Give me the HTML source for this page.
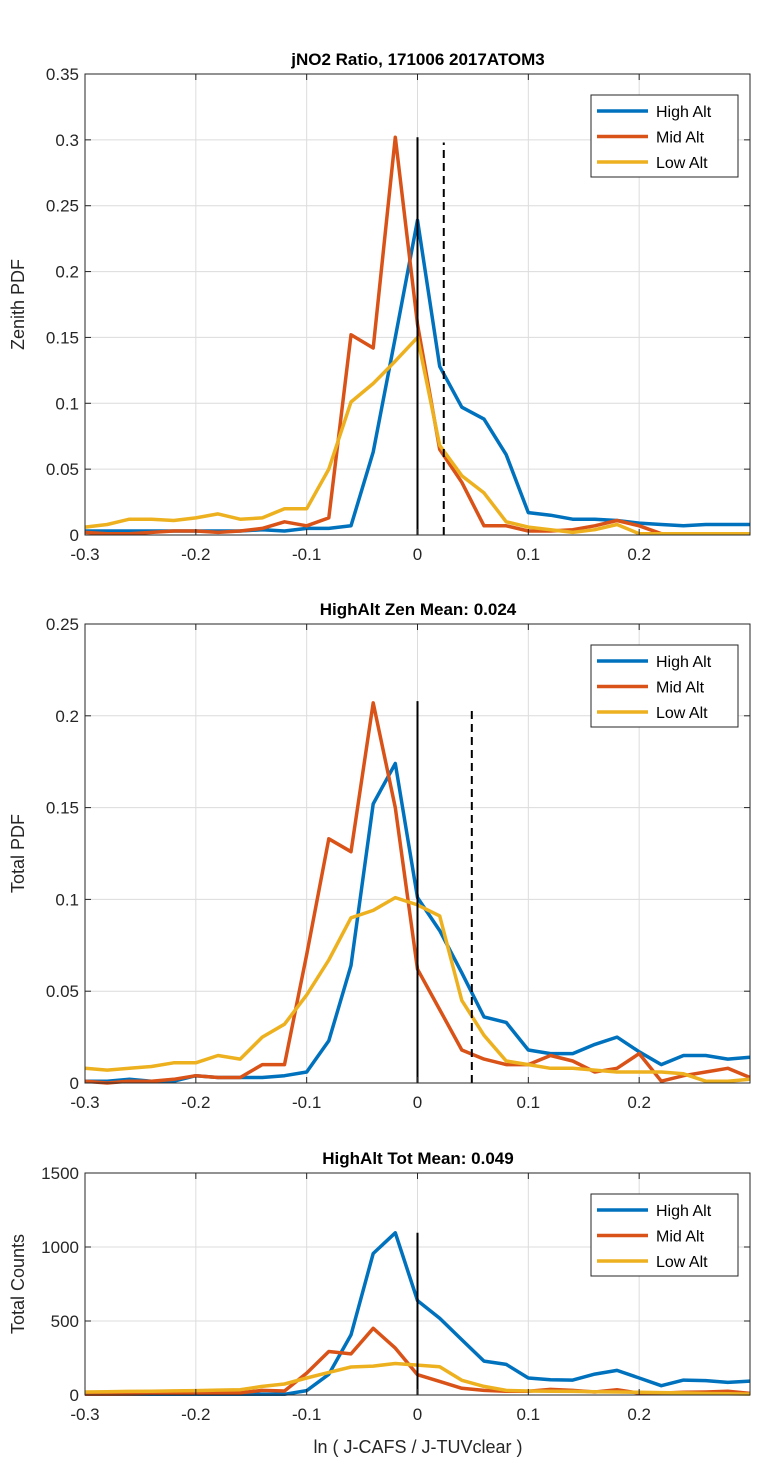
<!DOCTYPE html>
<html><head><meta charset="utf-8"><style>
html,body{margin:0;padding:0;background:#fff;}
svg{display:block;font-family:"Liberation Sans",Arial,sans-serif;}
</style></head><body>
<svg id="s" width="781" height="1484" xmlns="http://www.w3.org/2000/svg"></svg>
<script>
const S=document.getElementById('s');let h='';
const X0=85,X1=750;const xs=v=>X0+(v+0.3)/0.6*(X1-X0);
const C=['#0072BD','#D95319','#EDB120'];
function plot(o){
 const ys=v=>o.b-(v/o.max)*(o.b-o.t);
 // grid
 for(let k=-0.2;k<0.31;k+=0.1){const x=xs(k);h+=`<line x1="${x}" y1="${o.t}" x2="${x}" y2="${o.b}" stroke="#dcdcdc" stroke-width="1"/>`;}
 o.yt.forEach(v=>{const y=ys(v);h+=`<line x1="${X0}" y1="${y}" x2="${X1}" y2="${y}" stroke="#dcdcdc" stroke-width="1"/>`;});
 // series
 o.d.forEach((d,i)=>{let p=d.map((v,k)=>`${xs(-0.3+0.02*k).toFixed(1)},${ys(v).toFixed(1)}`).join(' ');
  h+=`<polyline points="${p}" fill="none" stroke="${C[i]}" stroke-width="3.5" stroke-linejoin="round"/>`;});
 h+=`<line x1="${xs(0)}" y1="${o.b}" x2="${xs(0)}" y2="${ys(o.sol)}" stroke="#000" stroke-width="2"/>`;
 if(o.dx!=null)h+=`<line x1="${xs(o.dx)}" y1="${o.b}" x2="${xs(o.dx)}" y2="${ys(o.dh)}" stroke="#000" stroke-width="2" stroke-dasharray="8,5"/>`;
 // box
 h+=`<rect x="${X0}" y="${o.t}" width="${X1-X0}" height="${o.b-o.t}" fill="none" stroke="#262626" stroke-width="1"/>`;
 // ticks
 for(let k=-0.3;k<0.31;k+=0.1){const x=xs(k);h+=`<line x1="${x}" y1="${o.b}" x2="${x}" y2="${o.b-6}" stroke="#262626"/><line x1="${x}" y1="${o.t}" x2="${x}" y2="${o.t+6}" stroke="#262626"/>`;
  if(k<0.29){let l=Math.round(k*10)/10;l=l===0?'0':String(l);h+=`<text x="${x}" y="${o.b+25}" font-size="17" text-anchor="middle" fill="#262626">${l}</text>`;}}
 o.yt.forEach((v,i)=>{const y=ys(v);h+=`<line x1="${X0}" y1="${y}" x2="${X0+6}" y2="${y}" stroke="#262626"/><line x1="${X1}" y1="${y}" x2="${X1-6}" y2="${y}" stroke="#262626"/><text x="${X0-6}" y="${y+6}" font-size="17" text-anchor="end" fill="#262626">${o.yl[i]}</text>`;});
 h+=`<text x="418" y="${o.t-9}" font-size="17" font-weight="bold" text-anchor="middle" fill="#000">${o.title}</text>`;
 h+=`<text transform="translate(24,${(o.t+o.b)/2}) rotate(-90)" font-size="18" text-anchor="middle" fill="#262626">${o.ylab}</text>`;
 // legend
 const lt=o.t+21;h+=`<rect x="591" y="${lt}" width="147" height="82" fill="#fff" stroke="#262626"/>`;
 ['High Alt','Mid Alt','Low Alt'].forEach((n,i)=>{const y=lt+16+i*25.5;h+=`<line x1="597" y1="${y}" x2="648" y2="${y}" stroke="${C[i]}" stroke-width="3.5"/><text x="656" y="${y+6}" font-size="16" fill="#000">${n}</text>`;});
}
plot({t:74,b:535,max:0.35,yt:[0,0.05,0.1,0.15,0.2,0.25,0.3,0.35],yl:['0','0.05','0.1','0.15','0.2','0.25','0.3','0.35'],
 title:'jNO2 Ratio, 171006 2017ATOM3',ylab:'Zenith PDF',sol:0.302,dx:0.0237,dh:0.298,
 d:[[.003,.003,.003,.003,.003,.003,.003,.003,.004,.003,.005,.005,.007,.063,.15,.239,.128,.097,.088,.061,.017,.015,.012,.012,.011,.009,.008,.007,.008,.008,.008],
 [.002,.001,.001,.002,.003,.003,.002,.003,.005,.01,.007,.013,.152,.142,.302,.16,.065,.04,.007,.007,.003,.003,.004,.007,.011,.007,.001,.001,.001,.001,.001],
 [.006,.008,.012,.012,.011,.013,.016,.012,.013,.02,.02,.05,.101,.115,.132,.15,.068,.045,.032,.01,.006,.004,.002,.004,.008,.001,.001,.001,.001,.001,.001]]});
plot({t:624,b:1083,max:0.25,yt:[0,0.05,0.1,0.15,0.2,0.25],yl:['0','0.05','0.1','0.15','0.2','0.25'],
 title:'HighAlt Zen Mean: 0.024',ylab:'Total PDF',sol:0.208,dx:0.049,dh:0.205,
 d:[[.001,.001,.002,.001,.001,.004,.003,.003,.003,.004,.006,.023,.064,.152,.174,.101,.083,.06,.036,.033,.018,.016,.016,.021,.025,.017,.01,.015,.015,.013,.014],
 [.001,0,.001,.001,.002,.004,.003,.003,.01,.01,.07,.133,.126,.207,.15,.062,.04,.018,.013,.01,.01,.015,.012,.006,.008,.016,.001,.004,.006,.008,.003],
 [.008,.007,.008,.009,.011,.011,.015,.013,.025,.032,.048,.067,.09,.094,.101,.097,.091,.045,.026,.012,.01,.008,.008,.007,.006,.006,.006,.005,.001,.001,.002]]});
plot({t:1173,b:1395,max:1500,yt:[0,500,1000,1500],yl:['0','500','1000','1500'],
 title:'HighAlt Tot Mean: 0.049',ylab:'Total Counts',sol:1096,dx:null,
 d:[[5,5,5,5,5,5,5,5,5,5,30,140,406,956,1096,638,519,373,229,207,115,103,101,141,166,115,63,101,97,85,94],
 [5,5,6,8,10,12,14,15,31,27,148,294,278,451,317,137,92,45,31,25,25,38,31,20,36,13,13,18,20,25,11],
 [20,22,24,26,28,30,33,36,58,74,115,153,189,195,213,202,191,99,58,31,27,25,24,22,20,18,16,14,10,9,6]]});
h+=`<text x="418" y="1453" font-size="18" text-anchor="middle" fill="#262626">ln ( J-CAFS / J-TUVclear )</text>`;
S.innerHTML=h;
</script>
</body></html>
